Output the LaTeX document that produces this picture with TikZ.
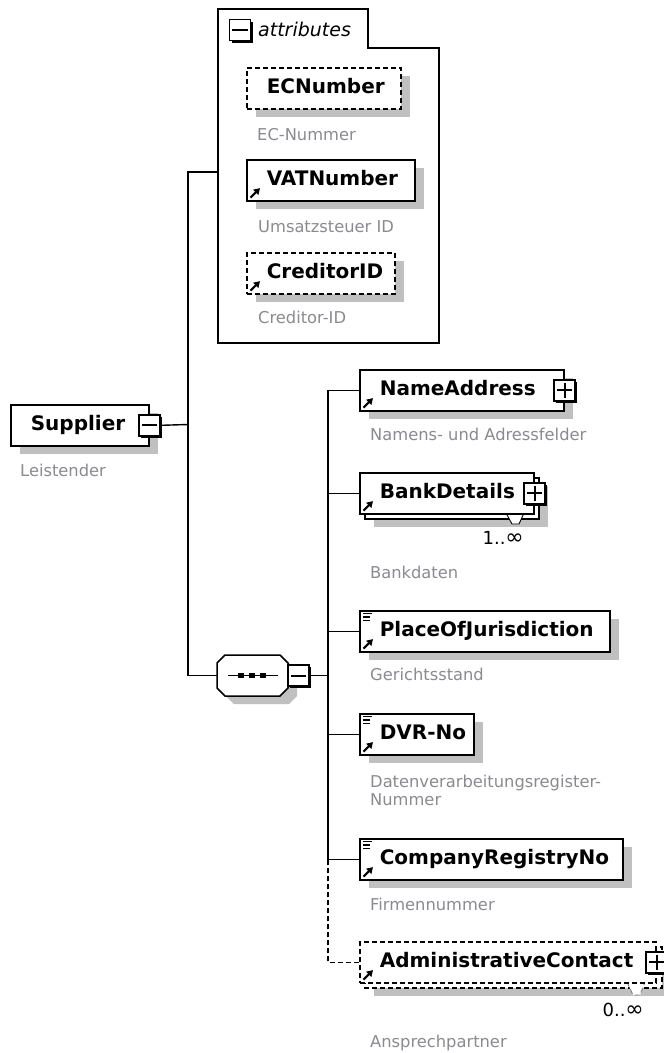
\documentclass[tikz,border=0pt]{standalone}
\usepackage{fontspec}
\setmainfont{DejaVu Sans}
\usetikzlibrary{arrows.meta,shadows}
\definecolor{shadowgray}{RGB}{192,192,192}
\definecolor{descgray}{RGB}{138,138,145}
\newcommand\namefont{\fontsize{20}{24}\selectfont\bfseries}
\newcommand\descfont{\fontsize{16.3}{18}\selectfont}
\newcommand\elemtext[2]{\makebox[#1][l]{\hspace*{20pt}#2}}
\newcommand\infsym{{\fontsize{22}{22}\selectfont ∞}}
\newcommand\refarrow[1]{\draw[line width=2pt,-{Triangle[length=6pt,width=7pt]}] ([xshift=4.5pt,yshift=4pt]#1.south west) -- ([xshift=14pt,yshift=13.5pt]#1.south west);}
\newcommand\listicon[1]{\draw[line width=1.3pt] ([xshift=4pt,yshift=-3.5pt]#1.north west) -- ++(9pt,0pt) ([xshift=4pt,yshift=-7pt]#1.north west) -- ++(7pt,0pt) ([xshift=4pt,yshift=-10.5pt]#1.north west) -- ++(7pt,0pt);}
\newcommand\pmminus[1]{\draw[line width=2pt] ([xshift=3.5pt]#1.west) -- ([xshift=-3.5pt]#1.east);}
\newcommand\pmplus[1]{\draw[line width=2pt] ([xshift=3.5pt]#1.west) -- ([xshift=-3.5pt]#1.east) ([yshift=-3.5pt]#1.north) -- ([yshift=3.5pt]#1.south);}
\begin{document}
\begin{tikzpicture}[x=1pt,y=-1pt,
  conn/.style={line width=1.4pt},
  eshadow/.style={drop shadow={shadow xshift=9pt,shadow yshift=-8pt,fill=shadowgray,opacity=1}},
  elemns/.style={draw, fill=white, line width=1.6pt, inner sep=0pt, anchor=north west, minimum height=41pt, text height=15pt, text depth=4pt, font=\namefont},
  elem/.style={elemns, eshadow},
  opt/.style={dash pattern=on 5pt off 3pt},
  desc/.style={font=\descfont, text=descgray, inner sep=0pt, anchor=base west},
  occ/.style={font=\fontsize{18}{20}\selectfont, inner sep=0pt, anchor=base east},
  pm/.style={draw, fill=white, line width=1.5pt, minimum size=21pt, inner sep=0pt, drop shadow={shadow xshift=2pt,shadow yshift=-2pt,fill=black,opacity=1}},
]
\fill[white] (0,0) rectangle (664,1053);
\useasboundingbox (0,0) rectangle (664,1053);

% ---------- connector coordinates ----------
\coordinate (attrL) at (218,172);
\coordinate (j) at (188,424.5);
\coordinate (k) at (328,675.5);

% ---------- Supplier ----------
\node[elem] (sup) at (10,404) {\elemtext{138pt}{Supplier}};
\node[pm] (supm) at (sup.east) {};
\pmminus{supm}
\node[desc] (supd) at (20,476) {Leistender};

% ---------- attributes ----------
\draw[line width=1.5pt] (218,343) -- (218,9) -- (368,9) -- (368,48) -- (439,48) -- (439,343) -- cycle;
\node[pm] (attm) at (240,30) {};
\pmminus{attm}
\node[anchor=base west, inner sep=0pt, font=\fontsize{19}{22}\selectfont\itshape] (atttxt) at (258,36) {attributes};

\node[elem,opt] (ec) at (246,67) {\elemtext{154pt}{ECNumber}};
\node[desc] (ecd) at (257,140) {EC-Nummer};
\node[elem] (vat) at (246,159) {\elemtext{168pt}{VATNumber}};
\refarrow{vat}
\node[desc] (vatd) at (258,232) {Umsatzsteuer ID};
\node[elem,opt] (cred) at (246,252) {\elemtext{148pt}{CreditorID}};
\refarrow{cred}
\node[desc] (credd) at (258,323) {Creditor-ID};

% ---------- sequence ----------
\fill[shadowgray,shift={(9,8)}] (225,655) -- (280,655) -- (288,663) -- (288,688) -- (280,696) -- (225,696) -- (217,688) -- (217,663) -- cycle;
\draw[line width=1.5pt,fill=white] (225,655) -- (280,655) -- (288,663) -- (288,688) -- (280,696) -- (225,696) -- (217,688) -- (217,663) -- cycle;
\node[inner sep=0pt, minimum width=71pt, minimum height=41pt] (seq) at (252.5,675.5) {};
\draw[line width=1.4pt] (228,675.5) -- (278,675.5);
\foreach \cx in {241,252,263} \fill (\cx-3,673) rectangle (\cx+3,678);
\node[pm] (seqm) at (298.5,675.5) {};
\pmminus{seqm}

% ---------- children ----------
\node[elem] (na) at (359,369) {\elemtext{204pt}{NameAddress}};
\node[pm] (nap) at (na.east) {};
\pmplus{nap}
\refarrow{na}
\node[desc] (nad) at (370,440) {Namens- und Adressfelder};

\path[draw, fill=white, line width=1.6pt, eshadow] (365,478) rectangle (539,519);
\draw[line width=0.9pt, fill=white] (506,513) -- (512,524) -- (519,524) -- (524,513);
\node[elemns] (bd) at (359,472) {\elemtext{174pt}{BankDetails}};
\node[pm] (bdp) at (bd.east) {};
\pmplus{bdp}
\refarrow{bd}
\node[occ] (bdo) at (524,544) {1..\infsym};
\node[desc] (bdd) at (370,578) {Bankdaten};

\node[elem] (pj) at (359,610) {\elemtext{250pt}{PlaceOfJurisdiction}};
\listicon{pj}
\refarrow{pj}
\node[desc] (pjd) at (370,680) {Gerichtsstand};

\node[elem] (dvr) at (359,713) {\elemtext{114pt}{DVR-No}};
\listicon{dvr}
\refarrow{dvr}
\node[desc] (dvrd1) at (370,787) {Datenverarbeitungsregister-};
\node[desc] (dvrd2) at (370,805) {Nummer};

\node[elem] (crn) at (359,838) {\elemtext{263pt}{CompanyRegistryNo}};
\listicon{crn}
\refarrow{crn}
\node[desc] (crnd) at (370,910) {Firmennummer};

\path[draw, fill=white, line width=1.6pt, opt, eshadow] (365,947) rectangle (662,988);
\draw[line width=0.9pt, gray, opt, fill=white] (627,982) -- (633,995) -- (640,995) -- (645,982);
\node[elemns,opt] (ac) at (359,941) {\elemtext{296pt}{AdministrativeContact}};
\node[pm] (acp) at (ac.east) {};
\pmplus{acp}
\refarrow{ac}
\node[occ] (aco) at (644,1016) {0..\infsym};
\node[desc] (acd) at (370,1047) {Ansprechpartner};

% ---------- tree lines ----------
\draw[conn] (supm.east) -- (j);
\draw[conn] (attrL) -| (j);
\draw[conn] (seq.west) -| (j);
\draw[conn] (seqm.east) -- (k);
\draw[conn] (na.west) -| (k);
\draw[conn] (bd.west) -- (bd.west -| k);
\draw[conn] (pj.west) -- (pj.west -| k);
\draw[conn] (dvr.west) -- (dvr.west -| k);
\draw[conn] (crn.west) -| (k);
\draw[conn,opt] (ac.west) -| (crn.west -| k);
\end{tikzpicture}
\end{document}
